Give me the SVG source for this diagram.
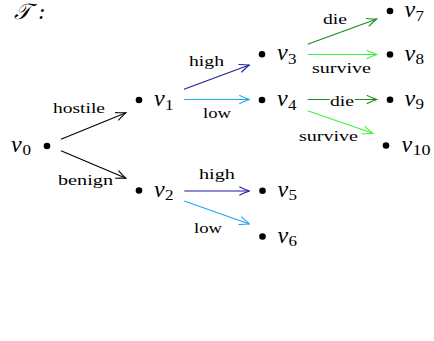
<svg xmlns="http://www.w3.org/2000/svg" width="434" height="341" viewBox="0 0 434 341">
<style>
.bg{fill:#ffffff}
.dot{fill:#000000}
.v{font-family:"Liberation Serif","DejaVu Serif",serif;font-style:italic;font-size:24px;fill:#000}
.sub{font-family:"Liberation Serif","DejaVu Serif",serif;font-size:14px;fill:#000}
.lbl{font-family:"Liberation Serif","DejaVu Serif",serif;font-size:15px;fill:#000;paint-order:stroke;stroke:#fff;stroke-width:0}
.onl{stroke-width:3px}
.e{fill:none;stroke-width:1.1}
.k{stroke:#000000}
.db{stroke:#1f1f9e}
.lb{stroke:#1ea6f2}
.dg{stroke:#1d8a1d}
.bgn{stroke:#3df23d}
.title{font-family:"DejaVu Serif","Liberation Serif",serif;font-style:italic;font-size:22px;fill:#000}
</style>
<defs>
<marker id="ak" viewBox="-11 -5 12 10" refX="0" refY="0" markerWidth="12" markerHeight="10" markerUnits="userSpaceOnUse" orient="auto"><path d="M-10,-4.2 Q-3,-1 0,0 Q-3,1 -10,4.2" fill="none" stroke="#000000" stroke-width="1.1"/></marker>
<marker id="adb" viewBox="-11 -5 12 10" refX="0" refY="0" markerWidth="12" markerHeight="10" markerUnits="userSpaceOnUse" orient="auto"><path d="M-10,-4.2 Q-3,-1 0,0 Q-3,1 -10,4.2" fill="none" stroke="#1f1f9e" stroke-width="1.1"/></marker>
<marker id="alb" viewBox="-11 -5 12 10" refX="0" refY="0" markerWidth="12" markerHeight="10" markerUnits="userSpaceOnUse" orient="auto"><path d="M-10,-4.2 Q-3,-1 0,0 Q-3,1 -10,4.2" fill="none" stroke="#1ea6f2" stroke-width="1.1"/></marker>
<marker id="adg" viewBox="-11 -5 12 10" refX="0" refY="0" markerWidth="12" markerHeight="10" markerUnits="userSpaceOnUse" orient="auto"><path d="M-10,-4.2 Q-3,-1 0,0 Q-3,1 -10,4.2" fill="none" stroke="#1d8a1d" stroke-width="1.1"/></marker>
<marker id="abg" viewBox="-11 -5 12 10" refX="0" refY="0" markerWidth="12" markerHeight="10" markerUnits="userSpaceOnUse" orient="auto"><path d="M-10,-4.2 Q-3,-1 0,0 Q-3,1 -10,4.2" fill="none" stroke="#3df23d" stroke-width="1.1"/></marker>
</defs>
<rect class="bg" x="0" y="0" width="434" height="341"/>
<text class="title" x="14" y="19">𝒯 :</text>
<g id="connectors">
<line class="e k" x1="61" y1="139.3" x2="126" y2="112.7" marker-end="url(#ak)"/>
<line class="e k" x1="61" y1="150.7" x2="126" y2="178.3" marker-end="url(#ak)"/>
<line class="e db" x1="184" y1="89.3" x2="249.3" y2="65" marker-end="url(#adb)"/>
<line class="e lb" x1="184" y1="99.5" x2="249.3" y2="99.5" marker-end="url(#alb)"/>
<line class="e dg" x1="307.7" y1="44.3" x2="376.7" y2="19" marker-end="url(#adg)"/>
<line class="e bgn" x1="307.7" y1="54.5" x2="376.7" y2="54.5" marker-end="url(#abg)"/>
<line class="e dg" x1="307.7" y1="99.5" x2="376.7" y2="99.5" marker-end="url(#adg)"/>
<line class="e bgn" x1="307.7" y1="110.7" x2="372.7" y2="133.3" marker-end="url(#abg)"/>
<line class="e db" x1="184.3" y1="191" x2="249.3" y2="191" marker-end="url(#adb)"/>
<line class="e lb" x1="184.3" y1="201" x2="249.3" y2="224" marker-end="url(#alb)"/>
<text class="lbl" x="53" y="113" textLength="52" lengthAdjust="spacingAndGlyphs">hostile</text>
<text class="lbl" x="58" y="185" textLength="55" lengthAdjust="spacingAndGlyphs">benign</text>
<text class="lbl" x="189" y="66" textLength="35" lengthAdjust="spacingAndGlyphs">high</text>
<text class="lbl" x="203" y="118" textLength="28" lengthAdjust="spacingAndGlyphs">low</text>
<text class="lbl" x="323" y="24" textLength="24" lengthAdjust="spacingAndGlyphs">die</text>
<text class="lbl" x="312" y="73" textLength="59" lengthAdjust="spacingAndGlyphs">survive</text>
<text class="lbl onl" x="330" y="105.5" textLength="24" lengthAdjust="spacingAndGlyphs">die</text>
<text class="lbl" x="299" y="141" textLength="59" lengthAdjust="spacingAndGlyphs">survive</text>
<text class="lbl" x="199" y="178.5" textLength="36" lengthAdjust="spacingAndGlyphs">high</text>
<text class="lbl" x="194" y="233" textLength="28" lengthAdjust="spacingAndGlyphs">low</text>
</g>
<g id="v0"><circle class="dot" cx="47" cy="146" r="3.3"/><text class="v" x="11" y="152">v</text><text class="sub" x="22.5" y="155" textLength="8.5" lengthAdjust="spacingAndGlyphs">0</text></g>
<g id="v1"><circle class="dot" cx="139" cy="100" r="3.3"/><text class="v" x="154" y="106">v</text><text class="sub" x="165" y="109.5" textLength="8.5" lengthAdjust="spacingAndGlyphs">1</text></g>
<g id="v2"><circle class="dot" cx="139" cy="190.5" r="3.3"/><text class="v" x="154" y="196.5">v</text><text class="sub" x="165" y="200" textLength="8.5" lengthAdjust="spacingAndGlyphs">2</text></g>
<g id="v3"><circle class="dot" cx="262" cy="54.3" r="3.3"/><text class="v" x="277" y="60.3">v</text><text class="sub" x="288" y="63.8" textLength="8.5" lengthAdjust="spacingAndGlyphs">3</text></g>
<g id="v4"><circle class="dot" cx="262" cy="100" r="3.3"/><text class="v" x="277" y="106">v</text><text class="sub" x="288" y="109.5" textLength="8.5" lengthAdjust="spacingAndGlyphs">4</text></g>
<g id="v5"><circle class="dot" cx="262.5" cy="190.7" r="3.3"/><text class="v" x="277.5" y="196.7">v</text><text class="sub" x="288.5" y="200.2" textLength="8.5" lengthAdjust="spacingAndGlyphs">5</text></g>
<g id="v6"><circle class="dot" cx="262.5" cy="236.5" r="3.3"/><text class="v" x="277.5" y="242.5">v</text><text class="sub" x="288.5" y="246" textLength="8.5" lengthAdjust="spacingAndGlyphs">6</text></g>
<g id="v7"><circle class="dot" cx="390" cy="11" r="3.3"/><text class="v" x="404.5" y="17">v</text><text class="sub" x="415.5" y="20.5" textLength="8.5" lengthAdjust="spacingAndGlyphs">7</text></g>
<g id="v8"><circle class="dot" cx="390" cy="54.5" r="3.3"/><text class="v" x="404.5" y="60.5">v</text><text class="sub" x="415.5" y="64" textLength="8.5" lengthAdjust="spacingAndGlyphs">8</text></g>
<g id="v9"><circle class="dot" cx="390" cy="99.8" r="3.3"/><text class="v" x="404.5" y="105.8">v</text><text class="sub" x="415.5" y="109.3" textLength="8.5" lengthAdjust="spacingAndGlyphs">9</text></g>
<g id="v10"><circle class="dot" cx="386" cy="145.5" r="3.3"/><text class="v" x="401.5" y="151.5">v</text><text class="sub" x="412.5" y="155" textLength="18" lengthAdjust="spacingAndGlyphs">10</text></g>
</svg>
